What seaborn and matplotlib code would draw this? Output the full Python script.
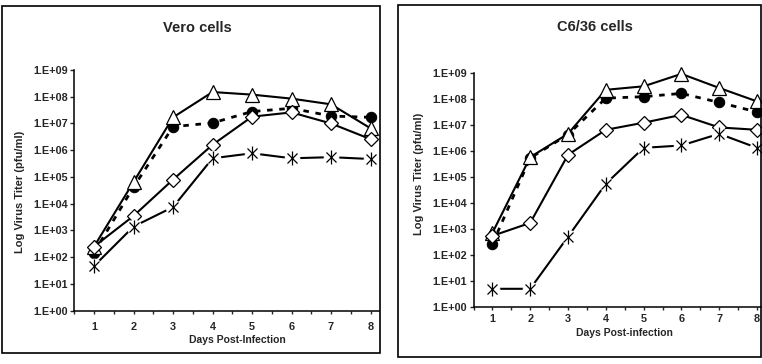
import matplotlib
matplotlib.use("Agg")
import matplotlib.pyplot as plt
from matplotlib.patches import Rectangle
import seaborn as sns

days = [1, 2, 3, 4, 5, 6, 7, 8]
ytick_vals = [1e0, 1e1, 1e2, 1e3, 1e4, 1e5, 1e6, 1e7, 1e8, 1e9]
ytick_labels = ["1.E+00", "1.E+01", "1.E+02", "1.E+03", "1.E+04",
                "1.E+05", "1.E+06", "1.E+07", "1.E+08", "1.E+09"]

# Vero cells
vero_triangle = [2.5e2, 6.5e4, 1.7e7, 1.5e8, 1.2e8, 8.5e7, 5.2e7, 6.6e6]
vero_circle = [1.5e2, 4.2e4, 7.6e6, 1.05e7, 2.8e7, 3.7e7, 1.9e7, 1.7e7]
vero_diamond = [2.5e2, 3.5e3, 8.0e4, 1.6e6, 1.8e7, 2.6e7, 1.0e7, 2.6e6]
vero_star = [4.7e1, 1.4e3, 7.5e3, 5.0e5, 7.7e5, 5.0e5, 5.5e5, 4.7e5]

# C6/36 cells
c636_triangle = [7.0e2, 5.7e5, 4.5e6, 2.2e8, 3.0e8, 9.0e8, 2.6e8, 7.9e7]
c636_circle = [2.6e2, 5.3e5, 4.2e6, 1.05e8, 1.2e8, 1.6e8, 7.2e7, 3.1e7]
c636_diamond = [5.4e2, 1.7e3, 7.0e5, 6.4e6, 1.2e7, 2.4e7, 7.9e6, 6.4e6]
c636_star = [5.0e0, 5.0e0, 5.0e2, 5.4e4, 1.3e6, 1.6e6, 4.5e6, 1.3e6]

sns.set_style("white")
plt.rcParams["font.family"] = ["Liberation Sans", "DejaVu Sans"]
plt.rcParams["font.weight"] = "bold"

W, H = 762, 364
fig = plt.figure(figsize=(W / 100, H / 100), dpi=100)


def fx(x):
    return x / W


def fy(y):
    return 1 - y / H


def draw_panel(ax, tri, cir, dia, star, xmax, xpad):
    ax.set_yscale("log")
    common = dict(ax=ax, color="black", clip_on=False)
    sns.lineplot(x=days, y=cir, lw=2.0, linestyle=(0, (2.0, 2.4)), marker="o",
                 markersize=7.5, markerfacecolor="black",
                 markeredgecolor="black", **common)
    sns.lineplot(x=days, y=tri, lw=1.5, marker="^", markersize=9.5,
                 markerfacecolor="white", markeredgecolor="black",
                 markeredgewidth=0.9, **common)
    sns.lineplot(x=days, y=dia, lw=1.5, marker="D", markersize=6.8,
                 markerfacecolor="white", markeredgecolor="black",
                 markeredgewidth=0.9, **common)
    # asterisk: white disc to break the line, then x and | on top
    sns.lineplot(x=days, y=star, lw=1.5, marker="o", markersize=10.5,
                 markerfacecolor="white", markeredgecolor="white", **common)
    sns.lineplot(x=days, y=star, linestyle="", marker="x", markersize=7.5,
                 markeredgecolor="black", markeredgewidth=0.9, **common)
    sns.lineplot(x=days, y=star, linestyle="", marker="|", markersize=10.5,
                 markeredgecolor="black", markeredgewidth=0.9, **common)

    ax.set_xlim(0.5, xmax)
    ax.set_ylim(1, 1e9)
    ax.set_yticks(ytick_vals)
    ax.set_yticklabels(ytick_labels)
    ax.minorticks_off()
    ax.set_xticks(days)
    ax.set_xticklabels([str(d) for d in days])
    ax.set_xticks([d + 0.5 for d in [0] + days[:-1]], minor=True)
    ax.tick_params(axis="y", which="major", direction="out", length=3,
                   width=1, pad=1.5, labelsize=7.8, left=True)
    ax.tick_params(axis="x", which="both", direction="out", length=2,
                   width=1, pad=xpad, labelsize=7.8, bottom=True)
    for lab in ax.get_xticklabels() + ax.get_yticklabels():
        lab.set_fontweight("bold")
    for s in ["top", "right"]:
        ax.spines[s].set_visible(False)
    for s in ["left", "bottom"]:
        ax.spines[s].set_color("black")
        ax.spines[s].set_linewidth(1.1)
    ax.set_xlabel("")
    ax.set_ylabel("")
    ax.patch.set_alpha(0)


# left panel: Vero cells
ax1 = fig.add_axes([fx(74.3), fy(310.7), fx(379 - 74.3), (310.7 - 70) / H])
draw_panel(ax1, vero_triangle, vero_circle, vero_diamond, vero_star,
           0.5 + (379 - 74.3) / 39.5, 6)

# right panel: C6/36 cells
ax2 = fig.add_axes([fx(473.5), fy(307), fx(761 - 473.5), (307 - 72.7) / H])
draw_panel(ax2, c636_triangle, c636_circle, c636_diamond, c636_star,
           0.5 + (761 - 473.5) / 37.8, 3)

# titles and axis labels
fig.text(fx(197), fy(28), "Vero cells", ha="center", va="center",
         fontsize=10.5, fontweight="bold")
fig.text(fx(595), fy(27), "C6/36 cells", ha="center", va="center",
         fontsize=10.5, fontweight="bold")
fig.text(fx(20), fy(192), "Log Virus Titer (pfu/ml)", rotation=90,
         ha="center", va="center", fontsize=8, fontweight="bold")
fig.text(fx(419), fy(174), "Log Virus Titer (pfu/ml)", rotation=90,
         ha="center", va="center", fontsize=8, fontweight="bold")
fig.text(fx(237), fy(340), "Days Post-Infection", ha="center", va="center",
         fontsize=7.5, fontweight="bold")
fig.text(fx(624), fy(333), "Days Post-infection", ha="center", va="center",
         fontsize=7.5, fontweight="bold")

# panel frames
fig.add_artist(Rectangle((fx(1.5), fy(353)), fx(380 - 1.5), (353 - 5.5) / H,
                         transform=fig.transFigure, fill=False,
                         edgecolor="black", lw=1.2))
fig.add_artist(Rectangle((fx(398), fy(357)), fx(761 - 398), (357 - 5) / H,
                         transform=fig.transFigure, fill=False,
                         edgecolor="black", lw=1.2))

fig.savefig("out.png", dpi=100)
